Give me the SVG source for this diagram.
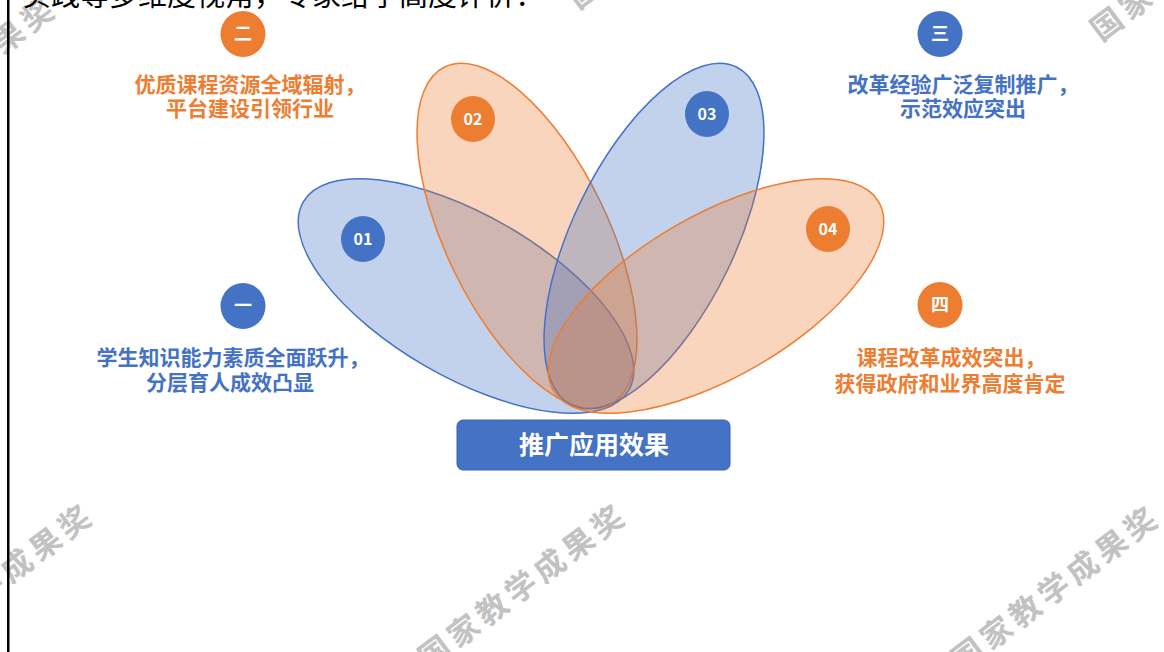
<svg xmlns="http://www.w3.org/2000/svg" width="1164" height="652" viewBox="0 0 1164 652">
<style>
.wm{font-family:"Noto Sans CJK SC","Liberation Sans",sans-serif;font-size:31px;font-weight:700;fill:#C2C2C2;letter-spacing:5px;text-anchor:middle}
.pb{fill:#4472C4;fill-opacity:0.32;stroke:#4472C4;stroke-width:1.5}
.po{fill:#ED7D31;fill-opacity:0.32;stroke:#ED7D31;stroke-width:1.5}
.cb{fill:#4472C4}
.co{fill:#ED7D31}
.num{font-family:"Noto Sans CJK SC","Liberation Sans",sans-serif;font-size:16px;font-weight:700;fill:#FFFFFF;text-anchor:middle}
.cn{font-family:"Noto Sans CJK SC",sans-serif;font-size:18px;font-weight:700;fill:#FFFFFF;text-anchor:middle}
.lb{font-family:"Noto Sans CJK SC",sans-serif;font-size:21px;font-weight:700;fill:#4472C4;text-anchor:middle}
.lo{font-family:"Noto Sans CJK SC",sans-serif;font-size:21px;font-weight:700;fill:#ED7D31;text-anchor:middle}
.top{font-family:"Noto Sans CJK SC",sans-serif;font-size:29px;fill:#000000}
</style>
<rect x="0" y="0" width="1164" height="652" fill="#FFFFFF"/>
<g id="watermarks">
<text class="wm" transform="translate(-10,586) rotate(-37)" x="0" y="11">国家教学成果奖</text>
<text class="wm" transform="translate(523,586) rotate(-37)" x="0" y="11">国家教学成果奖</text>
<text class="wm" transform="translate(1056,588) rotate(-37)" x="0" y="11">国家教学成果奖</text>
<text class="wm" transform="translate(-47,79) rotate(-37)" x="0" y="11">国家教学成果奖</text>
<text class="wm" transform="translate(672,-74) rotate(-37)" x="0" y="11">国家教学成果奖</text>
<text class="wm" transform="translate(1195,-42) rotate(-37)" x="0" y="11">国家教学成果奖</text>
</g>
<text class="top" x="22" y="6">实践等多维度视角，专家给予高度评价：</text>
<rect x="7" y="0" width="2.5" height="652" fill="#000000"/>
<g id="petal-01"><ellipse class="pb" cx="0" cy="0" rx="188" ry="81" transform="translate(466,296) rotate(30)"/></g>
<g id="petal-02"><ellipse class="po" cx="0" cy="0" rx="188" ry="81" transform="translate(527,236) rotate(64)"/></g>
<g id="petal-03"><ellipse class="pb" cx="0" cy="0" rx="188" ry="81" transform="translate(654,236) rotate(-64)"/></g>
<g id="petal-04"><ellipse class="po" cx="0" cy="0" rx="188" ry="81" transform="translate(716,296) rotate(-30)"/></g>
<g id="badge-01"><ellipse class="cb" cx="363" cy="239" rx="22" ry="23"/><text class="num" x="363" y="245">01</text></g>
<g id="badge-02"><ellipse class="co" cx="473" cy="119" rx="22" ry="23"/><text class="num" x="473" y="125">02</text></g>
<g id="badge-03"><ellipse class="cb" cx="707" cy="114" rx="22" ry="23"/><text class="num" x="707" y="120">03</text></g>
<g id="badge-04"><ellipse class="co" cx="828" cy="229" rx="22" ry="23"/><text class="num" x="828" y="235">04</text></g>
<g id="item-2"><ellipse class="co" cx="243" cy="34" rx="22.5" ry="23"/><text class="cn" x="243" y="40">二</text>
<text class="lo" x="250" y="92">优质课程资源全域辐射，</text><text class="lo" x="250" y="116">平台建设引领行业</text></g>
<g id="item-3"><ellipse class="cb" cx="940" cy="34" rx="22.5" ry="23"/><text class="cn" x="940" y="40">三</text>
<text class="lb" x="963" y="92">改革经验广泛复制推广，</text><text class="lb" x="963" y="116">示范效应突出</text></g>
<g id="item-1"><ellipse class="cb" cx="243" cy="306" rx="22.5" ry="23"/><text class="cn" x="243" y="312">一</text>
<text class="lb" x="233" y="365">学生知识能力素质全面跃升，</text><text class="lb" x="230" y="390">分层育人成效凸显</text></g>
<g id="item-4"><ellipse class="co" cx="940" cy="305" rx="22.5" ry="23"/><text class="cn" x="940" y="311">四</text>
<text class="lo" x="951" y="365">课程改革成效突出，</text><text class="lo" x="950" y="391">获得政府和业界高度肯定</text></g>
<g id="title"><rect x="457" y="420" width="273" height="50" rx="6" fill="#4472C4" stroke="#3A62A8" stroke-width="1"/>
<text x="594" y="454" font-family="Noto Sans CJK SC, sans-serif" font-size="25" font-weight="700" fill="#FFFFFF" text-anchor="middle">推广应用效果</text></g>
<g id="connectors"/>
</svg>
